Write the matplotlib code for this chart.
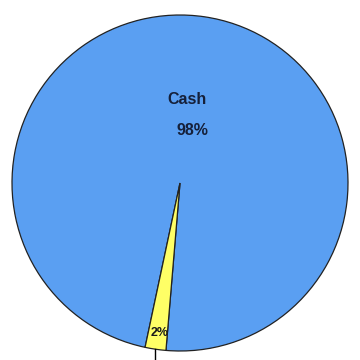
import numpy as np
import matplotlib.pyplot as plt

plt.rcParams['font.family'] = ['Liberation Sans', 'DejaVu Sans']

labels = ['Cash', 'Other']
shares = [98, 2]
colors = ['#5A9FF2', '#FFFF66']

fig = plt.figure(figsize=(3.6, 3.6), dpi=100)
ax = fig.add_axes([0, 0, 1, 1])

wedges, _ = ax.pie(shares, colors=colors, startangle=258, counterclock=False,
                   radius=1.0, wedgeprops=dict(edgecolor='#222222', linewidth=0.9))

# label positions along each wedge's middle angle
mids = [np.deg2rad((w.theta1 + w.theta2) / 2) for w in wedges]

cash_a = mids[0]
ax.text(0.5 * np.cos(cash_a) - 0.03, 0.5 * np.sin(cash_a), labels[0],
        ha='center', va='center', fontsize=11.5, fontweight='bold', color='#15203a')
ax.text(0.5 * np.cos(cash_a) + 0.0, 0.5 * np.sin(cash_a) - 0.18, f'{shares[0]}%',
        ha='center', va='center', fontsize=11.5, fontweight='bold', color='#15203a')

small_a = mids[1]
ax.text(0.9 * np.cos(small_a) + 0.01, 0.9 * np.sin(small_a), f'{shares[1]}%',
        ha='center', va='center', fontsize=9, fontweight='bold', color='#1a1a1a')

# leader line for the small slice, running off the bottom edge
lx = np.cos(small_a)
ax.plot([lx, lx], [np.sin(small_a), -1.2], color='black', lw=1, clip_on=False)

ax.set_aspect('equal')
ax.set_xlim(-180 / 168, 180 / 168)
ax.set_ylim(-177 / 168, 183 / 168)
ax.axis('off')

fig.savefig('out.png', dpi=100, facecolor='white')
